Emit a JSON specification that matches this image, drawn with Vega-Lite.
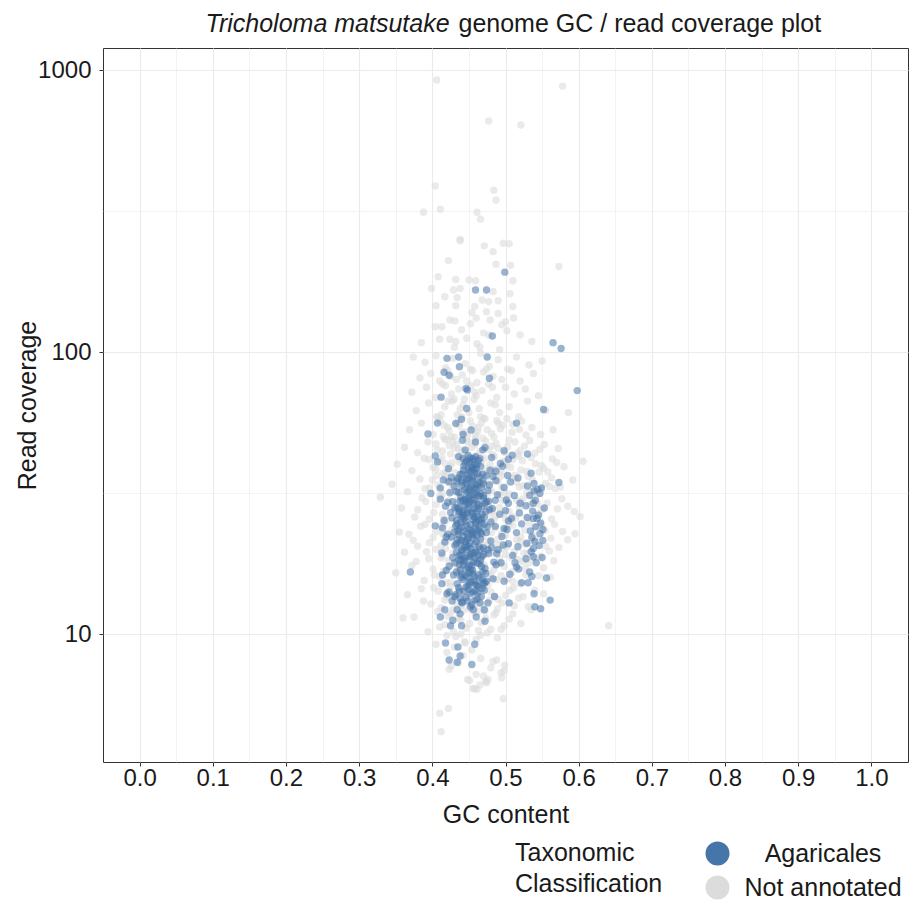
{
"$schema": "https://vega.github.io/schema/vega-lite/v6.json",
"width": 805,
"height": 714,
"autosize": {"type": "none"},
"padding": {"left": 103, "top": 48, "right": 1, "bottom": 138},
"background": "white",
"config": {
  "font": "Liberation Sans",
  "view": {"stroke": "#333333", "strokeWidth": 1},
  "axis": {"labelFont": "Liberation Sans", "titleFont": "Liberation Sans", "labelColor": "#1a1a1a", "titleColor": "#1a1a1a", "gridColor": "#ebebeb", "tickColor": "#333333", "domain": false, "titleFontWeight": "normal"},
  "legend": {"labelFont": "Liberation Sans", "titleFont": "Liberation Sans"}
},
"datasets": {
"unannotated": [
{"gc":0.406,"cov":922},{"gc":0.578,"cov":877},{"gc":0.477,"cov":660},{"gc":0.521,"cov":638},{"gc":0.404,"cov":388},{"gc":0.484,"cov":375},{"gc":0.487,"cov":346},{"gc":0.388,"cov":313},{"gc":0.411,"cov":321},{"gc":0.461,"cov":313},{"gc":0.466,"cov":296},{"gc":0.438,"cov":251},
{"gc":0.438,"cov":248},{"gc":0.471,"cov":238},{"gc":0.497,"cov":243},{"gc":0.505,"cov":242},{"gc":0.483,"cov":227},{"gc":0.422,"cov":211},{"gc":0.487,"cov":205},{"gc":0.573,"cov":201},{"gc":0.507,"cov":203},{"gc":0.408,"cov":185},{"gc":0.432,"cov":181},{"gc":0.45,"cov":180},{"gc":0.459,"cov":179},{"gc":0.51,"cov":179},{"gc":0.399,"cov":168},{"gc":0.429,"cov":166},{"gc":0.438,"cov":168},{"gc":0.483,"cov":164},{"gc":0.417,"cov":157},{"gc":0.434,"cov":156},{"gc":0.506,"cov":161},{"gc":0.477,"cov":151},{"gc":0.49,"cov":152},{"gc":0.468,"cov":153},{"gc":0.405,"cov":146},{"gc":0.432,"cov":146},{"gc":0.458,"cov":145},{"gc":0.51,"cov":145},{"gc":0.454,"cov":138},{"gc":0.474,"cov":139},{"gc":0.49,"cov":137},{"gc":0.424,"cov":130},{"gc":0.431,"cov":129},{"gc":0.479,"cov":130},{"gc":0.511,"cov":132},{"gc":0.5,"cov":128},{"gc":0.404,"cov":123},{"gc":0.413,"cov":123},{"gc":0.452,"cov":126},{"gc":0.47,"cov":117},{"gc":0.477,"cov":115},{"gc":0.502,"cov":119},{"gc":0.41,"cov":111},{"gc":0.424,"cov":111},{"gc":0.432,"cov":109},{"gc":0.447,"cov":112},{"gc":0.461,"cov":107},{"gc":0.465,"cov":104},{"gc":0.536,"cov":109},{"gc":0.492,"cov":102},{"gc":0.374,"cov":96},{"gc":0.44,"cov":120},{"gc":0.46,"cov":132},{"gc":0.495,"cov":125},{"gc":0.52,"cov":115},{"gc":0.43,"cov":104},{"gc":0.385,"cov":108},
{"gc":0.39,"cov":92},{"gc":0.405,"cov":97},{"gc":0.418,"cov":88},{"gc":0.428,"cov":95},{"gc":0.445,"cov":91},{"gc":0.455,"cov":86},{"gc":0.466,"cov":99},{"gc":0.478,"cov":89},{"gc":0.49,"cov":94},{"gc":0.503,"cov":87},{"gc":0.515,"cov":96},{"gc":0.532,"cov":90},{"gc":0.55,"cov":93},
{"gc":0.383,"cov":81},{"gc":0.398,"cov":84},{"gc":0.41,"cov":79},{"gc":0.421,"cov":86},{"gc":0.433,"cov":80},{"gc":0.441,"cov":83},{"gc":0.452,"cov":87},{"gc":0.461,"cov":78},{"gc":0.47,"cov":85},{"gc":0.483,"cov":82},{"gc":0.495,"cov":80},{"gc":0.508,"cov":86},{"gc":0.52,"cov":79},{"gc":0.538,"cov":84},{"gc":0.425,"cov":82},{"gc":0.447,"cov":79},{"gc":0.474,"cov":87},
{"gc":0.372,"cov":72},{"gc":0.392,"cov":75},{"gc":0.404,"cov":69},{"gc":0.414,"cov":77},{"gc":0.426,"cov":71},{"gc":0.436,"cov":74},{"gc":0.444,"cov":68},{"gc":0.453,"cov":76},{"gc":0.46,"cov":70},{"gc":0.468,"cov":73},{"gc":0.477,"cov":77},{"gc":0.488,"cov":69},{"gc":0.5,"cov":75},{"gc":0.512,"cov":71},{"gc":0.527,"cov":74},{"gc":0.545,"cov":70},{"gc":0.418,"cov":76},{"gc":0.43,"cov":68},{"gc":0.458,"cov":72},{"gc":0.482,"cov":75},
{"gc":0.378,"cov":62},{"gc":0.395,"cov":66},{"gc":0.406,"cov":59},{"gc":0.417,"cov":64},{"gc":0.427,"cov":67},{"gc":0.434,"cov":60},{"gc":0.442,"cov":65},{"gc":0.45,"cov":61},{"gc":0.457,"cov":68},{"gc":0.464,"cov":63},{"gc":0.472,"cov":58},{"gc":0.48,"cov":66},{"gc":0.492,"cov":61},{"gc":0.505,"cov":64},{"gc":0.518,"cov":59},{"gc":0.53,"cov":67},{"gc":0.555,"cov":62},{"gc":0.412,"cov":60},{"gc":0.438,"cov":63},{"gc":0.466,"cov":59},{"gc":0.486,"cov":65},{"gc":0.422,"cov":67},{"gc":0.586,"cov":61},
{"gc":0.369,"cov":53},{"gc":0.385,"cov":56},{"gc":0.401,"cov":51},{"gc":0.411,"cov":57},{"gc":0.421,"cov":54},{"gc":0.43,"cov":50},{"gc":0.437,"cov":55},{"gc":0.445,"cov":52},{"gc":0.452,"cov":57},{"gc":0.459,"cov":51},{"gc":0.467,"cov":56},{"gc":0.475,"cov":53},{"gc":0.484,"cov":50},{"gc":0.496,"cov":55},{"gc":0.509,"cov":52},{"gc":0.522,"cov":57},{"gc":0.536,"cov":54},{"gc":0.548,"cov":51},{"gc":0.565,"cov":53},{"gc":0.416,"cov":55},{"gc":0.441,"cov":52},{"gc":0.463,"cov":54},{"gc":0.49,"cov":56},{"gc":0.426,"cov":50},{"gc":0.502,"cov":58},
{"gc":0.362,"cov":46},{"gc":0.38,"cov":44},{"gc":0.394,"cov":48},{"gc":0.407,"cov":45},{"gc":0.417,"cov":49},{"gc":0.425,"cov":43.5},{"gc":0.433,"cov":47},{"gc":0.44,"cov":44.5},{"gc":0.447,"cov":48.5},{"gc":0.454,"cov":46},{"gc":0.461,"cov":43},{"gc":0.469,"cov":49.5},{"gc":0.477,"cov":45},{"gc":0.487,"cov":47.5},{"gc":0.499,"cov":44},{"gc":0.513,"cov":48},{"gc":0.526,"cov":46.5},{"gc":0.54,"cov":43.8},{"gc":0.553,"cov":47},{"gc":0.572,"cov":45.5},{"gc":0.42,"cov":49},{"gc":0.444,"cov":44.2},{"gc":0.458,"cov":46.8},{"gc":0.483,"cov":43.2},{"gc":0.43,"cov":45.8},{"gc":0.505,"cov":48.8},{"gc":0.52,"cov":44.8},{"gc":0.606,"cov":41},
{"gc":0.352,"cov":40},{"gc":0.372,"cov":38},{"gc":0.389,"cov":42},{"gc":0.401,"cov":39},{"gc":0.41,"cov":41},{"gc":0.419,"cov":37.5},{"gc":0.427,"cov":40.5},{"gc":0.434,"cov":42.5},{"gc":0.441,"cov":38},{"gc":0.449,"cov":41.5},{"gc":0.456,"cov":39.5},{"gc":0.463,"cov":37},{"gc":0.471,"cov":42},{"gc":0.479,"cov":40},{"gc":0.488,"cov":38.5},{"gc":0.497,"cov":41},{"gc":0.507,"cov":39},{"gc":0.518,"cov":42.8},{"gc":0.529,"cov":37.8},{"gc":0.541,"cov":40.2},{"gc":0.552,"cov":38.8},{"gc":0.564,"cov":41.8},{"gc":0.58,"cov":39.2},{"gc":0.415,"cov":37.2},{"gc":0.437,"cov":40.8},{"gc":0.46,"cov":42.2},{"gc":0.484,"cov":38.2},{"gc":0.502,"cov":39.8},{"gc":0.523,"cov":41.2},{"gc":0.546,"cov":37.6},
{"gc":0.345,"cov":34},{"gc":0.366,"cov":32},{"gc":0.383,"cov":35.5},{"gc":0.396,"cov":33},{"gc":0.406,"cov":36.5},{"gc":0.414,"cov":31.5},{"gc":0.422,"cov":34.5},{"gc":0.429,"cov":33.5},{"gc":0.436,"cov":36},{"gc":0.443,"cov":32.5},{"gc":0.45,"cov":35},{"gc":0.458,"cov":31.2},{"gc":0.465,"cov":33.8},{"gc":0.473,"cov":36.8},{"gc":0.481,"cov":32.2},{"gc":0.49,"cov":34.8},{"gc":0.499,"cov":31.8},{"gc":0.509,"cov":35.8},{"gc":0.519,"cov":33.2},{"gc":0.531,"cov":36.2},{"gc":0.543,"cov":31.4},{"gc":0.555,"cov":34.2},{"gc":0.568,"cov":32.8},{"gc":0.592,"cov":35.2},{"gc":0.329,"cov":30.6},{"gc":0.41,"cov":32.6},{"gc":0.432,"cov":35.4},{"gc":0.453,"cov":33.6},{"gc":0.476,"cov":31.6},{"gc":0.494,"cov":36.4},{"gc":0.515,"cov":34.6},{"gc":0.536,"cov":32.4},{"gc":0.56,"cov":33.4},
{"gc":0.358,"cov":28},{"gc":0.376,"cov":26},{"gc":0.391,"cov":29.5},{"gc":0.402,"cov":27},{"gc":0.412,"cov":30.5},{"gc":0.42,"cov":25.5},{"gc":0.428,"cov":28.5},{"gc":0.435,"cov":30},{"gc":0.442,"cov":26.5},{"gc":0.449,"cov":29},{"gc":0.456,"cov":27.5},{"gc":0.463,"cov":25.2},{"gc":0.47,"cov":30.8},{"gc":0.478,"cov":28.2},{"gc":0.487,"cov":26.2},{"gc":0.496,"cov":29.8},{"gc":0.505,"cov":27.2},{"gc":0.514,"cov":25.8},{"gc":0.524,"cov":30.2},{"gc":0.534,"cov":28.8},{"gc":0.545,"cov":26.8},{"gc":0.557,"cov":29.2},{"gc":0.571,"cov":27.8},{"gc":0.602,"cov":26.1},{"gc":0.417,"cov":25.4},{"gc":0.439,"cov":28.6},{"gc":0.46,"cov":30.6},{"gc":0.482,"cov":27.4},{"gc":0.5,"cov":25.6},{"gc":0.52,"cov":29.6},{"gc":0.54,"cov":26.4},{"gc":0.386,"cov":30.4},{"gc":0.585,"cov":28.4},
{"gc":0.355,"cov":23},{"gc":0.374,"cov":21.5},{"gc":0.39,"cov":24.5},{"gc":0.401,"cov":22},{"gc":0.411,"cov":24},{"gc":0.419,"cov":21.2},{"gc":0.427,"cov":23.5},{"gc":0.434,"cov":22.5},{"gc":0.441,"cov":24.8},{"gc":0.448,"cov":21.8},{"gc":0.455,"cov":23.2},{"gc":0.462,"cov":24.2},{"gc":0.469,"cov":22.2},{"gc":0.477,"cov":21.4},{"gc":0.486,"cov":23.8},{"gc":0.495,"cov":22.8},{"gc":0.505,"cov":24.6},{"gc":0.515,"cov":21.6},{"gc":0.526,"cov":23.4},{"gc":0.537,"cov":22.4},{"gc":0.549,"cov":24.4},{"gc":0.562,"cov":21.9},{"gc":0.578,"cov":23.1},{"gc":0.415,"cov":22.6},{"gc":0.438,"cov":21.1},{"gc":0.459,"cov":24.9},{"gc":0.481,"cov":22.9},{"gc":0.5,"cov":23.7},{"gc":0.52,"cov":21.3},{"gc":0.543,"cov":24.1},{"gc":0.595,"cov":22.7},
{"gc":0.362,"cov":19.5},{"gc":0.38,"cov":20.5},{"gc":0.395,"cov":18.5},{"gc":0.405,"cov":20},{"gc":0.414,"cov":19},{"gc":0.422,"cov":18.2},{"gc":0.43,"cov":20.8},{"gc":0.437,"cov":19.2},{"gc":0.444,"cov":18.8},{"gc":0.451,"cov":20.2},{"gc":0.458,"cov":19.8},{"gc":0.466,"cov":18.4},{"gc":0.474,"cov":20.6},{"gc":0.483,"cov":19.4},{"gc":0.492,"cov":18.6},{"gc":0.502,"cov":20.4},{"gc":0.512,"cov":19.6},{"gc":0.523,"cov":18.1},{"gc":0.535,"cov":20.9},{"gc":0.547,"cov":18.9},{"gc":0.56,"cov":19.7},{"gc":0.418,"cov":20.1},{"gc":0.44,"cov":18.3},{"gc":0.462,"cov":19.1},{"gc":0.488,"cov":20.7},{"gc":0.508,"cov":18.7},{"gc":0.53,"cov":19.3},{"gc":0.573,"cov":20.3},
{"gc":0.35,"cov":16.5},{"gc":0.372,"cov":17.5},{"gc":0.389,"cov":15.5},{"gc":0.401,"cov":17},{"gc":0.41,"cov":16},{"gc":0.419,"cov":15.2},{"gc":0.427,"cov":17.8},{"gc":0.434,"cov":16.2},{"gc":0.441,"cov":15.8},{"gc":0.448,"cov":17.2},{"gc":0.455,"cov":16.8},{"gc":0.463,"cov":15.4},{"gc":0.471,"cov":17.6},{"gc":0.479,"cov":16.4},{"gc":0.488,"cov":15.6},{"gc":0.498,"cov":17.4},{"gc":0.509,"cov":16.6},{"gc":0.52,"cov":15.1},{"gc":0.532,"cov":17.9},{"gc":0.545,"cov":16.1},{"gc":0.561,"cov":15.9},{"gc":0.415,"cov":16.7},{"gc":0.438,"cov":17.3},{"gc":0.46,"cov":15.3},{"gc":0.484,"cov":16.9},{"gc":0.503,"cov":15.7},{"gc":0.527,"cov":17.1},
{"gc":0.366,"cov":13.8},{"gc":0.385,"cov":14.5},{"gc":0.398,"cov":12.8},{"gc":0.408,"cov":14.2},{"gc":0.417,"cov":13.2},{"gc":0.425,"cov":14.8},{"gc":0.432,"cov":13.5},{"gc":0.439,"cov":12.6},{"gc":0.446,"cov":14.6},{"gc":0.453,"cov":13},{"gc":0.46,"cov":14},{"gc":0.468,"cov":12.7},{"gc":0.476,"cov":14.9},{"gc":0.485,"cov":13.6},{"gc":0.495,"cov":12.9},{"gc":0.506,"cov":14.3},{"gc":0.518,"cov":13.4},{"gc":0.531,"cov":12.5},{"gc":0.552,"cov":13.9},{"gc":0.421,"cov":14.1},{"gc":0.443,"cov":13.1},{"gc":0.465,"cov":14.7},{"gc":0.49,"cov":13.3},{"gc":0.512,"cov":12.6},
{"gc":0.375,"cov":11.5},{"gc":0.394,"cov":10.2},{"gc":0.407,"cov":12},{"gc":0.417,"cov":10.8},{"gc":0.425,"cov":11.8},{"gc":0.432,"cov":9.8},{"gc":0.439,"cov":11.2},{"gc":0.446,"cov":10.5},{"gc":0.453,"cov":12.3},{"gc":0.46,"cov":9.6},{"gc":0.467,"cov":11},{"gc":0.475,"cov":10.1},{"gc":0.484,"cov":11.7},{"gc":0.494,"cov":10.4},{"gc":0.505,"cov":11.3},{"gc":0.521,"cov":10.9},{"gc":0.641,"cov":10.7},{"gc":0.42,"cov":9.9},{"gc":0.442,"cov":12.1},{"gc":0.463,"cov":10.3},{"gc":0.489,"cov":9.7},{"gc":0.36,"cov":11.4},{"gc":0.535,"cov":12.2},
{"gc":0.405,"cov":9.2},{"gc":0.42,"cov":8.6},{"gc":0.43,"cov":9},{"gc":0.436,"cov":7.9},{"gc":0.442,"cov":8.4},{"gc":0.448,"cov":6.9},{"gc":0.454,"cov":8.8},{"gc":0.46,"cov":7.2},{"gc":0.466,"cov":8.2},{"gc":0.473,"cov":6.8},{"gc":0.48,"cov":7.6},{"gc":0.488,"cov":8.1},{"gc":0.495,"cov":7},{"gc":0.498,"cov":7.4},{"gc":0.445,"cov":9.3},{"gc":0.457,"cov":6.4},{"gc":0.47,"cov":7.1},{"gc":0.476,"cov":6.9},{"gc":0.483,"cov":8},{"gc":0.426,"cov":7.7},{"gc":0.465,"cov":6.6},
{"gc":0.497,"cov":5.9},{"gc":0.461,"cov":6.37},{"gc":0.456,"cov":6.42},{"gc":0.451,"cov":6.85},{"gc":0.474,"cov":6.74},{"gc":0.494,"cov":7.3},{"gc":0.499,"cov":7.75},{"gc":0.423,"cov":7.5},{"gc":0.41,"cov":5.24},{"gc":0.422,"cov":5.45},{"gc":0.412,"cov":4.51},
{"gc":0.408,"cov":58.5},{"gc":0.423,"cov":52.5},{"gc":0.435,"cov":56.5},{"gc":0.448,"cov":50.5},{"gc":0.456,"cov":54.5},{"gc":0.47,"cov":58.2},{"gc":0.481,"cov":51.5},{"gc":0.493,"cov":53.5},{"gc":0.51,"cov":55.5},{"gc":0.528,"cov":50.8},{"gc":0.415,"cov":50.2},{"gc":0.44,"cov":59},{"gc":0.462,"cov":52.2},{"gc":0.488,"cov":57.2},{"gc":0.519,"cov":53.2},
{"gc":0.405,"cov":47.2},{"gc":0.414,"cov":44.6},{"gc":0.428,"cov":48.2},{"gc":0.436,"cov":45.2},{"gc":0.45,"cov":47.8},{"gc":0.465,"cov":44.4},{"gc":0.473,"cov":48.4},{"gc":0.49,"cov":45.6},{"gc":0.503,"cov":46.2},{"gc":0.516,"cov":43.6},{"gc":0.533,"cov":48.6},{"gc":0.547,"cov":45.2},{"gc":0.423,"cov":46.6},{"gc":0.459,"cov":49.2},{"gc":0.481,"cov":46.4},
{"gc":0.395,"cov":41.6},{"gc":0.405,"cov":38.4},{"gc":0.413,"cov":42.2},{"gc":0.424,"cov":39.4},{"gc":0.431,"cov":37.4},{"gc":0.44,"cov":41.4},{"gc":0.452,"cov":39.2},{"gc":0.467,"cov":40.4},{"gc":0.475,"cov":38.6},{"gc":0.485,"cov":42.6},{"gc":0.494,"cov":37.6},{"gc":0.51,"cov":41.6},{"gc":0.521,"cov":38.2},{"gc":0.535,"cov":42.2},{"gc":0.549,"cov":39.6},{"gc":0.558,"cov":37.6},{"gc":0.57,"cov":40.6},{"gc":0.418,"cov":40.2},{"gc":0.445,"cov":42.8},{"gc":0.5,"cov":40.8},
{"gc":0.39,"cov":32.8},{"gc":0.4,"cov":35.2},{"gc":0.408,"cov":33.8},{"gc":0.417,"cov":36.2},{"gc":0.425,"cov":32.2},{"gc":0.433,"cov":34.2},{"gc":0.439,"cov":31.6},{"gc":0.447,"cov":36.6},{"gc":0.455,"cov":32.6},{"gc":0.462,"cov":35.6},{"gc":0.469,"cov":32.4},{"gc":0.478,"cov":34.4},{"gc":0.486,"cov":36.2},{"gc":0.495,"cov":33.2},{"gc":0.505,"cov":31.4},{"gc":0.513,"cov":36.6},{"gc":0.524,"cov":33.6},{"gc":0.537,"cov":35.2},{"gc":0.549,"cov":32.6},{"gc":0.563,"cov":35.8},{"gc":0.575,"cov":33.2},{"gc":0.42,"cov":34.8},{"gc":0.444,"cov":33.2},{"gc":0.466,"cov":36.8},{"gc":0.492,"cov":31.2},{"gc":0.529,"cov":31.8},
{"gc":0.38,"cov":27.6},{"gc":0.396,"cov":25.6},{"gc":0.405,"cov":28.8},{"gc":0.414,"cov":26.6},{"gc":0.422,"cov":29.8},{"gc":0.43,"cov":27.1},{"gc":0.438,"cov":25.3},{"gc":0.445,"cov":30.3},{"gc":0.452,"cov":26.3},{"gc":0.459,"cov":28.3},{"gc":0.467,"cov":26.9},{"gc":0.474,"cov":29.3},{"gc":0.484,"cov":25.3},{"gc":0.492,"cov":28.1},{"gc":0.502,"cov":30.1},{"gc":0.51,"cov":26.1},{"gc":0.519,"cov":28.1},{"gc":0.528,"cov":25.9},{"gc":0.538,"cov":30.6},{"gc":0.55,"cov":27.6},{"gc":0.563,"cov":25.6},{"gc":0.577,"cov":30.2},{"gc":0.594,"cov":27.2},{"gc":0.41,"cov":30.9},{"gc":0.434,"cov":29.1},{"gc":0.457,"cov":30.7},{"gc":0.479,"cov":26.6},{"gc":0.497,"cov":26.6},{"gc":0.515,"cov":29.8},{"gc":0.544,"cov":28.9},
{"gc":0.368,"cov":22.6},{"gc":0.384,"cov":24.1},{"gc":0.396,"cov":21.1},{"gc":0.406,"cov":23.1},{"gc":0.416,"cov":24.7},{"gc":0.424,"cov":21.9},{"gc":0.431,"cov":23.9},{"gc":0.437,"cov":21.5},{"gc":0.444,"cov":24.1},{"gc":0.451,"cov":22.1},{"gc":0.458,"cov":23.9},{"gc":0.465,"cov":21.1},{"gc":0.473,"cov":23.5},{"gc":0.48,"cov":24.6},{"gc":0.49,"cov":21.7},{"gc":0.5,"cov":22.4},{"gc":0.51,"cov":24.3},{"gc":0.521,"cov":22.1},{"gc":0.532,"cov":24.7},{"gc":0.541,"cov":21.7},{"gc":0.554,"cov":23.3},{"gc":0.567,"cov":24.5},{"gc":0.585,"cov":21.6},{"gc":0.412,"cov":20.6},{"gc":0.44,"cov":20.4},{"gc":0.47,"cov":20.6},{"gc":0.496,"cov":20.2},{"gc":0.527,"cov":20.8},{"gc":0.555,"cov":20.5},
{"gc":0.378,"cov":18.1},{"gc":0.392,"cov":19.6},{"gc":0.403,"cov":16.2},{"gc":0.412,"cov":18.6},{"gc":0.421,"cov":16.9},{"gc":0.428,"cov":19.4},{"gc":0.435,"cov":17.1},{"gc":0.443,"cov":19.6},{"gc":0.45,"cov":15.6},{"gc":0.457,"cov":18.2},{"gc":0.464,"cov":16.4},{"gc":0.472,"cov":19.1},{"gc":0.481,"cov":15.9},{"gc":0.49,"cov":17.8},{"gc":0.5,"cov":19.2},{"gc":0.51,"cov":15.4},{"gc":0.517,"cov":18.4},{"gc":0.528,"cov":16.2},{"gc":0.54,"cov":18.6},{"gc":0.552,"cov":17.2},{"gc":0.566,"cov":18.2},{"gc":0.425,"cov":15.3},{"gc":0.447,"cov":16.1},{"gc":0.468,"cov":17.4},{"gc":0.494,"cov":16.1},{"gc":0.525,"cov":19.4},
{"gc":0.388,"cov":13.1},{"gc":0.402,"cov":14.6},{"gc":0.412,"cov":12.4},{"gc":0.42,"cov":13.6},{"gc":0.428,"cov":12.2},{"gc":0.436,"cov":14.4},{"gc":0.443,"cov":13.8},{"gc":0.45,"cov":12.3},{"gc":0.457,"cov":14.7},{"gc":0.464,"cov":13.4},{"gc":0.472,"cov":12.1},{"gc":0.48,"cov":14.1},{"gc":0.489,"cov":12.3},{"gc":0.5,"cov":13.7},{"gc":0.511,"cov":14.6},{"gc":0.524,"cov":13.6},{"gc":0.54,"cov":14.3},{"gc":0.433,"cov":12.9},{"gc":0.458,"cov":12.4},{"gc":0.478,"cov":13.2},
{"gc":0.41,"cov":10.6},{"gc":0.421,"cov":11.6},{"gc":0.429,"cov":10.2},{"gc":0.436,"cov":11.4},{"gc":0.444,"cov":9.4},{"gc":0.451,"cov":10.9},{"gc":0.458,"cov":11.9},{"gc":0.466,"cov":9.9},{"gc":0.473,"cov":11.4},{"gc":0.48,"cov":10.4},{"gc":0.487,"cov":11.9},{"gc":0.498,"cov":10.7},{"gc":0.51,"cov":11.8},{"gc":0.439,"cov":10},{"gc":0.462,"cov":12}
],
"agaricales": [
{"gc":0.499,"cov":192},{"gc":0.459,"cov":166},{"gc":0.474,"cov":166},{"gc":0.482,"cov":114},{"gc":0.565,"cov":108},{"gc":0.576,"cov":103},{"gc":0.42,"cov":95},{"gc":0.436,"cov":96},{"gc":0.475,"cov":96},{"gc":0.437,"cov":88.7},{"gc":0.416,"cov":84.8},{"gc":0.423,"cov":82.8},{"gc":0.478,"cov":80.7},{"gc":0.446,"cov":74.3},{"gc":0.448,"cov":73.3},{"gc":0.412,"cov":69.2},{"gc":0.598,"cov":73},{"gc":0.447,"cov":63.1},{"gc":0.552,"cov":62.6},{"gc":0.44,"cov":57.8},{"gc":0.432,"cov":55.8},{"gc":0.407,"cov":56},{"gc":0.515,"cov":56},{"gc":0.394,"cov":51.2},{"gc":0.442,"cov":51},{"gc":0.453,"cov":52.9},{"gc":0.441,"cov":48.7},{"gc":0.459,"cov":48},{"gc":0.472,"cov":45.9},{"gc":0.469,"cov":45},{"gc":0.445,"cov":45},{"gc":0.498,"cov":44.7},{"gc":0.509,"cov":43.1},{"gc":0.53,"cov":43.5},{"gc":0.404,"cov":42.8},{"gc":0.436,"cov":42.6},{"gc":0.442,"cov":41.9},{"gc":0.456,"cov":41.9},{"gc":0.465,"cov":41.9},{"gc":0.481,"cov":42.3},{"gc":0.504,"cov":41.7},{"gc":0.407,"cov":40.8},{"gc":0.535,"cov":37.2},{"gc":0.573,"cov":34.5},{"gc":0.398,"cov":31.5},{"gc":0.411,"cov":33},{"gc":0.423,"cov":34.7},{"gc":0.433,"cov":34.9},{"gc":0.487,"cov":37.8},{"gc":0.483,"cov":36.2},{"gc":0.496,"cov":39.4},{"gc":0.53,"cov":33.5},{"gc":0.539,"cov":32.2},{"gc":0.549,"cov":33},{"gc":0.547,"cov":31.5},{"gc":0.538,"cov":29.1},{"gc":0.501,"cov":29.9},{"gc":0.504,"cov":29.1},{"gc":0.486,"cov":29.8},{"gc":0.519,"cov":26.9},{"gc":0.508,"cov":25.7},{"gc":0.504,"cov":25.2},{"gc":0.538,"cov":25.7},{"gc":0.543,"cov":25.7},{"gc":0.541,"cov":24},{"gc":0.498,"cov":23.7},{"gc":0.502,"cov":23.5},{"gc":0.529,"cov":21},{"gc":0.536,"cov":22},{"gc":0.547,"cov":22.7},{"gc":0.551,"cov":21.5},{"gc":0.517,"cov":20.4},{"gc":0.404,"cov":24.2},{"gc":0.419,"cov":22.1},{"gc":0.421,"cov":29.3},{"gc":0.37,"cov":16.6},{"gc":0.414,"cov":16.2},{"gc":0.413,"cov":15.1},{"gc":0.411,"cov":11.5},{"gc":0.425,"cov":10.7},{"gc":0.428,"cov":11.2},{"gc":0.44,"cov":10.7},{"gc":0.472,"cov":11.1},{"gc":0.471,"cov":12.2},{"gc":0.46,"cov":11.5},{"gc":0.434,"cov":12.2},{"gc":0.438,"cov":11.8},{"gc":0.417,"cov":12.2},{"gc":0.452,"cov":12.5},{"gc":0.456,"cov":12.2},{"gc":0.476,"cov":12.9},{"gc":0.505,"cov":12.9},{"gc":0.54,"cov":12.5},{"gc":0.548,"cov":12.3},{"gc":0.561,"cov":13.2},{"gc":0.539,"cov":13.9},{"gc":0.498,"cov":15.4},{"gc":0.522,"cov":15.2},{"gc":0.531,"cov":15.2},{"gc":0.533,"cov":16.6},{"gc":0.536,"cov":16},{"gc":0.515,"cov":17.3},{"gc":0.518,"cov":17},{"gc":0.513,"cov":17.9},{"gc":0.494,"cov":17.9},{"gc":0.487,"cov":17.6},{"gc":0.488,"cov":19.3},{"gc":0.528,"cov":18.5},{"gc":0.538,"cov":18.8},{"gc":0.538,"cov":20.1},{"gc":0.497,"cov":20.7},{"gc":0.504,"cov":20.9},{"gc":0.54,"cov":21.3},{"gc":0.473,"cov":16.4},{"gc":0.47,"cov":15.1},{"gc":0.468,"cov":14.5},{"gc":0.423,"cov":14.1},{"gc":0.43,"cov":13.6},{"gc":0.418,"cov":9.3},{"gc":0.435,"cov":9},{"gc":0.458,"cov":9.2},{"gc":0.438,"cov":8.36},{"gc":0.423,"cov":8.1},{"gc":0.434,"cov":7.95},{"gc":0.454,"cov":7.8},
{"gc":0.445,"cov":40.5},{"gc":0.452,"cov":42.1},{"gc":0.458,"cov":39.8},{"gc":0.463,"cov":41.2},{"gc":0.449,"cov":43},{"gc":0.455,"cov":38.9},{"gc":0.461,"cov":40},
{"gc":0.438,"cov":36.8},{"gc":0.443,"cov":38.2},{"gc":0.447,"cov":35.5},{"gc":0.451,"cov":37.6},{"gc":0.456,"cov":36.1},{"gc":0.46,"cov":38.8},{"gc":0.465,"cov":35.9},{"gc":0.469,"cov":37},{"gc":0.474,"cov":36.4},{"gc":0.441,"cov":35.2},{"gc":0.453,"cov":39.1},{"gc":0.458,"cov":37.3},{"gc":0.449,"cov":38.5},
{"gc":0.43,"cov":33.4},{"gc":0.436,"cov":31.8},{"gc":0.44,"cov":34.6},{"gc":0.444,"cov":32.5},{"gc":0.448,"cov":33.9},{"gc":0.452,"cov":31.2},{"gc":0.455,"cov":34.9},{"gc":0.459,"cov":32.8},{"gc":0.462,"cov":33.6},{"gc":0.466,"cov":31.5},{"gc":0.47,"cov":34.1},{"gc":0.476,"cov":32.3},{"gc":0.447,"cov":31.9},{"gc":0.457,"cov":33},{"gc":0.464,"cov":34.4},{"gc":0.433,"cov":32},{"gc":0.451,"cov":32.7},
{"gc":0.428,"cov":29.5},{"gc":0.434,"cov":28.1},{"gc":0.439,"cov":30.6},{"gc":0.443,"cov":27.4},{"gc":0.446,"cov":29.9},{"gc":0.45,"cov":28.7},{"gc":0.454,"cov":30.2},{"gc":0.458,"cov":27.8},{"gc":0.461,"cov":29.2},{"gc":0.465,"cov":30.8},{"gc":0.468,"cov":28.4},{"gc":0.472,"cov":29},{"gc":0.478,"cov":27.6},{"gc":0.437,"cov":27.2},{"gc":0.449,"cov":30.4},{"gc":0.456,"cov":28.9},{"gc":0.463,"cov":27.9},{"gc":0.441,"cov":29.7},
{"gc":0.427,"cov":25.8},{"gc":0.432,"cov":24.2},{"gc":0.436,"cov":26.6},{"gc":0.44,"cov":23.9},{"gc":0.445,"cov":25.1},{"gc":0.448,"cov":26.9},{"gc":0.452,"cov":24.5},{"gc":0.455,"cov":25.5},{"gc":0.459,"cov":23.7},{"gc":0.462,"cov":26.2},{"gc":0.467,"cov":24.8},{"gc":0.471,"cov":25.9},{"gc":0.475,"cov":24},{"gc":0.434,"cov":24.6},{"gc":0.443,"cov":26.4},{"gc":0.45,"cov":23.6},{"gc":0.457,"cov":26},{"gc":0.464,"cov":25.3},{"gc":0.439,"cov":24.9},
{"gc":0.426,"cov":22.1},{"gc":0.431,"cov":20.6},{"gc":0.435,"cov":23.2},{"gc":0.44,"cov":21.5},{"gc":0.444,"cov":20.3},{"gc":0.447,"cov":22.8},{"gc":0.451,"cov":21},{"gc":0.455,"cov":23},{"gc":0.458,"cov":20.8},{"gc":0.461,"cov":22.4},{"gc":0.466,"cov":21.7},{"gc":0.47,"cov":20.2},{"gc":0.474,"cov":22.9},{"gc":0.438,"cov":21.2},{"gc":0.449,"cov":20.5},{"gc":0.456,"cov":21.9},{"gc":0.463,"cov":23.4},{"gc":0.433,"cov":20.9},{"gc":0.48,"cov":21.4},
{"gc":0.428,"cov":18.7},{"gc":0.433,"cov":19.5},{"gc":0.437,"cov":17.6},{"gc":0.441,"cov":19.8},{"gc":0.445,"cov":18.2},{"gc":0.449,"cov":17.3},{"gc":0.452,"cov":19.1},{"gc":0.456,"cov":18},{"gc":0.46,"cov":19.6},{"gc":0.464,"cov":17.8},{"gc":0.468,"cov":18.9},{"gc":0.472,"cov":17.1},{"gc":0.477,"cov":19.3},{"gc":0.439,"cov":18.4},{"gc":0.447,"cov":19.9},{"gc":0.454,"cov":17.5},{"gc":0.458,"cov":18.6},{"gc":0.431,"cov":17.9},{"gc":0.443,"cov":18.1},
{"gc":0.429,"cov":16.2},{"gc":0.434,"cov":15.1},{"gc":0.438,"cov":16.8},{"gc":0.442,"cov":15.6},{"gc":0.446,"cov":14.7},{"gc":0.45,"cov":16.5},{"gc":0.453,"cov":15.3},{"gc":0.457,"cov":16},{"gc":0.461,"cov":14.9},{"gc":0.465,"cov":15.8},{"gc":0.469,"cov":16.6},{"gc":0.474,"cov":15.4},{"gc":0.436,"cov":14.6},{"gc":0.448,"cov":15.9},{"gc":0.455,"cov":16.9},{"gc":0.44,"cov":16.3},{"gc":0.459,"cov":15},
{"gc":0.432,"cov":13.8},{"gc":0.437,"cov":14.2},{"gc":0.441,"cov":12.9},{"gc":0.446,"cov":13.5},{"gc":0.45,"cov":14.4},{"gc":0.454,"cov":12.7},{"gc":0.458,"cov":13.2},{"gc":0.462,"cov":14},{"gc":0.467,"cov":13.6},{"gc":0.44,"cov":13},{"gc":0.452,"cov":13.9},{"gc":0.471,"cov":14.3},{"gc":0.427,"cov":13.1},
{"gc":0.447,"cov":41},{"gc":0.454,"cov":37.9},{"gc":0.46,"cov":34},{"gc":0.45,"cov":35.8},{"gc":0.444,"cov":30.1},{"gc":0.457,"cov":31.3},{"gc":0.453,"cov":27.1},{"gc":0.446,"cov":26},{"gc":0.46,"cov":25},{"gc":0.449,"cov":22},{"gc":0.457,"cov":22.6},{"gc":0.445,"cov":21.3},{"gc":0.452,"cov":18.8},{"gc":0.462,"cov":19},{"gc":0.44,"cov":20},{"gc":0.466,"cov":23},{"gc":0.455,"cov":16.4},{"gc":0.446,"cov":17},{"gc":0.463,"cov":16.2},{"gc":0.451,"cov":15.2},{"gc":0.444,"cov":23.1},{"gc":0.468,"cov":26.6},{"gc":0.436,"cov":22.5},{"gc":0.47,"cov":31},{"gc":0.441,"cov":37},{"gc":0.473,"cov":27.2},{"gc":0.437,"cov":19},{"gc":0.459,"cov":14.2},{"gc":0.448,"cov":13.1},{"gc":0.466,"cov":18.3},
{"gc":0.443,"cov":39.5},{"gc":0.451,"cov":40.8},{"gc":0.459,"cov":42.6},{"gc":0.466,"cov":39.3},{"gc":0.448,"cov":36.6},{"gc":0.455,"cov":35.4},{"gc":0.462,"cov":37.1},{"gc":0.44,"cov":33.5},{"gc":0.446,"cov":34.4},{"gc":0.453,"cov":33.3},{"gc":0.46,"cov":31.7},{"gc":0.467,"cov":33.1},{"gc":0.438,"cov":29.6},{"gc":0.444,"cov":28.6},{"gc":0.451,"cov":29.4},{"gc":0.457,"cov":29.9},{"gc":0.464,"cov":28.8},{"gc":0.47,"cov":30.3},{"gc":0.436,"cov":27.9},{"gc":0.443,"cov":25.7},{"gc":0.449,"cov":27.6},{"gc":0.455,"cov":26.8},{"gc":0.461,"cov":27.4},{"gc":0.467,"cov":25.6},{"gc":0.433,"cov":25.3},{"gc":0.44,"cov":26.2},{"gc":0.447,"cov":24.3},{"gc":0.453,"cov":23.3},{"gc":0.459,"cov":24.6},{"gc":0.465,"cov":23.8},{"gc":0.471,"cov":24.5},{"gc":0.437,"cov":23.6},{"gc":0.442,"cov":22.3},{"gc":0.448,"cov":21.7},{"gc":0.454,"cov":22.5},{"gc":0.46,"cov":21.3},{"gc":0.467,"cov":22.7},{"gc":0.434,"cov":21.6},{"gc":0.44,"cov":19.1},{"gc":0.446,"cov":20.7},{"gc":0.452,"cov":20.1},{"gc":0.458,"cov":19.5},{"gc":0.464,"cov":20.4},{"gc":0.47,"cov":19.2},{"gc":0.436,"cov":18.3},{"gc":0.442,"cov":17.6},{"gc":0.449,"cov":18.9},{"gc":0.455,"cov":19.4},{"gc":0.461,"cov":17.9},{"gc":0.467,"cov":17.4},{"gc":0.433,"cov":16.6},{"gc":0.439,"cov":15.9},{"gc":0.445,"cov":16.1},{"gc":0.451,"cov":17.6},{"gc":0.457,"cov":15.5},{"gc":0.463,"cov":14.8},{"gc":0.469,"cov":15.6},{"gc":0.443,"cov":14.2},{"gc":0.449,"cov":14.9},{"gc":0.455,"cov":14.1},{"gc":0.461,"cov":13.3},{"gc":0.438,"cov":13.4},{"gc":0.465,"cov":12.9},{"gc":0.452,"cov":16.8},{"gc":0.447,"cov":29.1},{"gc":0.462,"cov":31},{"gc":0.455,"cov":41.3},{"gc":0.45,"cov":32},{"gc":0.458,"cov":25.9},{"gc":0.444,"cov":18.6},{"gc":0.466,"cov":20},{"gc":0.441,"cov":27},{"gc":0.469,"cov":35},{"gc":0.435,"cov":35.6},{"gc":0.474,"cov":29.5},{"gc":0.431,"cov":28},{"gc":0.476,"cov":19.9},{"gc":0.43,"cov":23},{"gc":0.472,"cov":15.2},{"gc":0.457,"cov":38.3},
{"gc":0.415,"cov":35.2},{"gc":0.418,"cov":28.4},{"gc":0.421,"cov":22.6},{"gc":0.413,"cov":19.4},{"gc":0.419,"cov":16.8},{"gc":0.424,"cov":31.7},{"gc":0.416,"cov":25.3},{"gc":0.422,"cov":38.6},{"gc":0.42,"cov":13.9},{"gc":0.425,"cov":27},{"gc":0.417,"cov":21.2},{"gc":0.411,"cov":30.1},{"gc":0.423,"cov":17.4},{"gc":0.414,"cov":23.8},{"gc":0.426,"cov":36},
{"gc":0.478,"cov":33.8},{"gc":0.482,"cov":27.9},{"gc":0.486,"cov":24.1},{"gc":0.481,"cov":20.3},{"gc":0.489,"cov":31.2},{"gc":0.484,"cov":18},{"gc":0.492,"cov":26.6},{"gc":0.479,"cov":38.1},{"gc":0.487,"cov":35},{"gc":0.495,"cov":22.2},{"gc":0.483,"cov":15.7},{"gc":0.49,"cov":19.9},{"gc":0.498,"cov":33.1},{"gc":0.477,"cov":29.6},{"gc":0.493,"cov":40.3},{"gc":0.485,"cov":13.6},{"gc":0.48,"cov":25},{"gc":0.5,"cov":27.4},
{"gc":0.507,"cov":34.6},{"gc":0.512,"cov":31},{"gc":0.503,"cov":36.5},{"gc":0.515,"cov":22.9},{"gc":0.52,"cov":29.1},{"gc":0.51,"cov":19},{"gc":0.522,"cov":24.6},{"gc":0.506,"cov":16.3},{"gc":0.517,"cov":35.8},
{"gc":0.528,"cov":28.5},{"gc":0.533,"cov":31},{"gc":0.537,"cov":27.3},{"gc":0.541,"cov":29.8},{"gc":0.545,"cov":26.4},{"gc":0.548,"cov":24.8},{"gc":0.535,"cov":19.6},{"gc":0.542,"cov":17.9},{"gc":0.546,"cov":20.6},{"gc":0.551,"cov":23.5},{"gc":0.539,"cov":34.2},{"gc":0.53,"cov":25.9},{"gc":0.553,"cov":28},{"gc":0.544,"cov":32.6},{"gc":0.55,"cov":18.7},{"gc":0.534,"cov":23.2},{"gc":0.556,"cov":15.8}
]
},
"layer": [
{
  "data": {"name": "unannotated"},
  "mark": {"type": "circle", "size": 55, "opacity": 0.6},
  "encoding": {
    "x": {"field": "gc", "type": "quantitative",
      "scale": {"domain": [-0.05, 1.05], "nice": false, "zero": false},
      "axis": {"orient": "bottom", "values": [0, 0.1, 0.2, 0.3, 0.4, 0.5, 0.6, 0.7, 0.8, 0.9, 1.0], "format": ".1f", "labelFontSize": 24, "labelPadding": 0, "tickSize": 4, "tickWidth": 1, "labelFlush": false, "labelOverlap": false, "grid": true, "gridWidth": 1.1, "title": "GC content", "titleFontSize": 25, "titleY": 60, "titleBaseline": "alphabetic"}},
    "y": {"field": "cov", "type": "quantitative",
      "scale": {"type": "log", "domain": [3.52, 1197], "nice": false},
      "axis": {"orient": "left", "values": [10, 100, 1000], "format": "d", "labelFontSize": 24, "labelPadding": 8, "tickSize": 4, "tickWidth": 1, "grid": true, "gridWidth": 1.1, "title": "Read coverage", "titleFontSize": 25, "titleX": -68, "titleBaseline": "alphabetic"}},
    "color": {"datum": "Not annotated", "type": "nominal",
      "scale": {"domain": ["Agaricales", "Not annotated"], "range": ["#4575a9", "#dcdcdc"]},
      "legend": {"orient": "none", "legendX": 412, "legendY": 793, "direction": "vertical", "title": ["Taxonomic", "Classification"], "titleOrient": "left", "titleAnchor": "start", "titleFontSize": 25, "titleFontWeight": "normal", "titleColor": "#1a1a1a", "titleLineHeight": 31, "titleBaseline": "top", "titlePadding": 42, "labelFontSize": 25, "labelColor": "#1a1a1a", "labelAlign": "center", "labelOffset": 93, "labelLimit": 300, "symbolType": "circle", "symbolSize": 576, "symbolOpacity": 1, "symbolStrokeWidth": 0, "rowPadding": 8, "padding": 0,
        "encode": {"symbols": {"update": {"opacity": {"value": 1}, "fillOpacity": {"value": 1}}}}}}
  }
},
{
  "data": {"name": "agaricales"},
  "mark": {"type": "circle", "size": 55, "opacity": 0.55},
  "encoding": {
    "x": {"field": "gc", "type": "quantitative",
      "axis": {"orient": "top", "values": [0.05, 0.15, 0.25, 0.35, 0.45, 0.55, 0.65, 0.75, 0.85, 0.95], "labels": false, "ticks": false, "domain": false, "grid": true, "gridWidth": 0.6, "title": "Tricholoma matsutake", "titleFontStyle": "italic", "titleFontSize": 25, "titleX": 102, "titleY": -17, "titleAlign": "left", "titleBaseline": "alphabetic"}},
    "y": {"field": "cov", "type": "quantitative",
      "axis": {"orient": "right", "values": [31.62, 316.2], "labels": false, "ticks": false, "domain": false, "grid": true, "gridWidth": 0.6, "title": "genome GC / read coverage plot", "titleAngle": 0, "titleFontSize": 25, "titleX": -450, "titleY": -17, "titleAlign": "left", "titleBaseline": "alphabetic"}},
    "color": {"datum": "Agaricales", "type": "nominal"}
  }
}
],
"resolve": {"axis": {"x": "independent", "y": "independent"}}
}
